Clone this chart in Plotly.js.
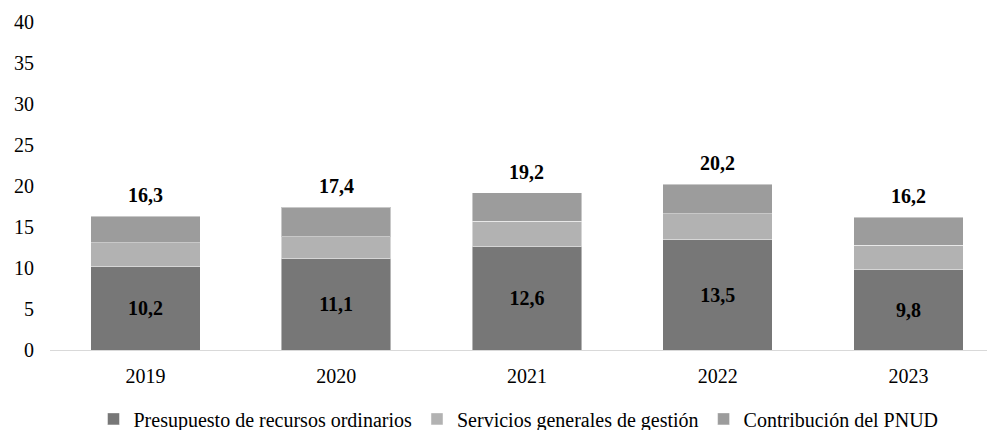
<!DOCTYPE html>
<html>
<head>
<meta charset="utf-8">
<script src="https://cdn.plot.ly/plotly-3.0.1.min.js"></script>
<style>html,body{margin:0;padding:0;background:#fff;}#chart{width:987px;height:430px;}</style>
</head>
<body>
<div id="chart"></div>
<script>
var years = ['2019', '2020', '2021', '2022', '2023'];
var presupuesto = [10.2, 11.1, 12.6, 13.5, 9.8];
var servicios = [2.9, 2.7, 3.1, 3.1, 3.0];
var contribucion = [3.2, 3.6, 3.5, 3.6, 3.4];
var totals = [16.3, 17.4, 19.2, 20.2, 16.2];
var seriesNames = ['Presupuesto de recursos ordinarios', 'Servicios generales de gestión', 'Contribución del PNUD'];
var seriesColors = ['#777777', '#b2b2b2', '#9c9c9c'];

var FONT = '"Liberation Serif", "Times New Roman", serif';
var segLine = {color: 'rgba(255,255,255,0.45)', width: 1};

var traces = [
  {
    type: 'bar', name: seriesNames[0], x: years, y: presupuesto,
    marker: {color: seriesColors[0], line: segLine},
    texttemplate: '%{y:.1f}', textposition: 'inside', insidetextanchor: 'middle',
    constraintext: 'none',
    textfont: {family: FONT, size: 20, color: '#000', weight: 'bold'},
    hoverinfo: 'skip'
  },
  {
    type: 'bar', name: seriesNames[1], x: years, y: servicios,
    marker: {color: seriesColors[1], line: segLine},
    textposition: 'none', hoverinfo: 'skip'
  },
  {
    type: 'bar', name: seriesNames[2], x: years, y: contribucion,
    marker: {color: seriesColors[2], line: segLine},
    textposition: 'none', hoverinfo: 'skip'
  }
];

var annotations = years.map(function (yr, i) {
  return {
    x: i, y: totals[i], xref: 'x', yref: 'y',
    text: '<b>' + totals[i].toFixed(1).replace('.', ',') + '</b>',
    showarrow: false, yanchor: 'bottom', yshift: 8,
    font: {family: FONT, size: 20, color: '#000'}
  };
});

var layout = {
  width: 987, height: 430,
  margin: {l: 50, r: 0, t: 22, b: 80, autoexpand: false},
  paper_bgcolor: '#fff', plot_bgcolor: '#fff',
  barmode: 'stack', bargap: 0.426,
  separators: ',.',
  font: {family: FONT, size: 20, color: '#000'},
  xaxis: {
    type: 'category', range: [-0.5, 4.412],
    showgrid: false, zeroline: false,
    showline: true, linecolor: '#d9d9d9', linewidth: 1,
    ticks: '', ticklabelstandoff: 8,
    tickfont: {family: FONT, size: 20, color: '#000'}
  },
  yaxis: {
    range: [0, 40], dtick: 5, tick0: 0,
    showgrid: false, zeroline: false, showline: false,
    ticks: '', ticklabelstandoff: 15,
    tickfont: {family: FONT, size: 20, color: '#000'}
  },
  showlegend: true,
  legend: {
    orientation: 'h', x: 0.5, xanchor: 'center', y: -0.21, yanchor: 'middle',
    font: {family: FONT, size: 20, color: '#000'},
    itemwidth: 30, traceorder: 'normal', itemclick: false, itemdoubleclick: false
  },
  annotations: annotations,
  hovermode: false
};

Plotly.newPlot('chart', traces, layout, {displayModeBar: false, staticPlot: true});
</script>
</body>
</html>
